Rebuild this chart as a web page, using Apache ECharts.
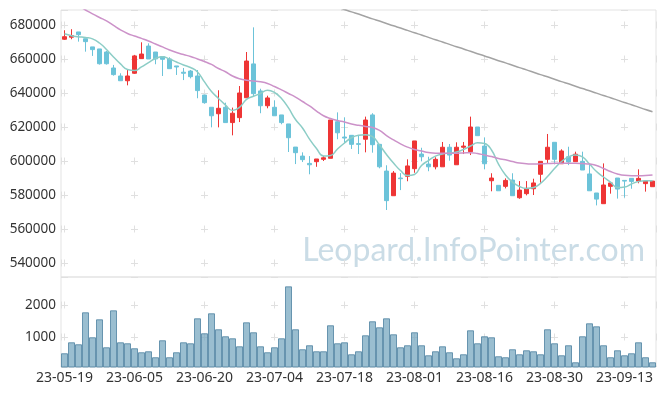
<!DOCTYPE html>
<html><head><meta charset="utf-8">
<script src="https://cdn.jsdelivr.net/npm/echarts@6/dist/echarts.min.js"></script>
<style>html,body{margin:0;padding:0;background:#fff}#c{width:665px;height:396px}</style>
</head><body><div id="c"></div>
<script>
const dates = ['23-05-19','23-05-22','23-05-23','23-05-24','23-05-25','23-05-26','23-05-30','23-05-31','23-06-01','23-06-02',
'23-06-05','23-06-07','23-06-08','23-06-09','23-06-12','23-06-13','23-06-14','23-06-15','23-06-16','23-06-19',
'23-06-20','23-06-21','23-06-22','23-06-23','23-06-26','23-06-27','23-06-28','23-06-29','23-06-30','23-07-03',
'23-07-04','23-07-05','23-07-06','23-07-07','23-07-10','23-07-11','23-07-12','23-07-13','23-07-14','23-07-17',
'23-07-18','23-07-19','23-07-20','23-07-21','23-07-24','23-07-25','23-07-26','23-07-27','23-07-28','23-07-31',
'23-08-01','23-08-02','23-08-03','23-08-04','23-08-07','23-08-08','23-08-09','23-08-10','23-08-11','23-08-14',
'23-08-16','23-08-17','23-08-18','23-08-21','23-08-22','23-08-23','23-08-24','23-08-25','23-08-28','23-08-29',
'23-08-30','23-08-31','23-09-01','23-09-04','23-09-05','23-09-06','23-09-07','23-09-08','23-09-11','23-09-12',
'23-09-13','23-09-14','23-09-15','23-09-18','23-09-19'];
// [open, close, low, high]
const ohlc = [
[671600,673100,671200,676900],[672800,673700,671600,677500],[675900,674300,670200,675900],[671900,670200,664300,671900],[667100,665500,661800,667100],
[665900,657200,656700,665900],[664100,657200,656700,664700],[654700,650800,650200,656500],[650000,647200,647200,651600],[647200,650000,644500,653900],
[651600,661800,651200,662400],[660200,662900,660200,669800],[667600,660000,660000,669200],[664100,660000,656900,664100],[661400,659800,650000,661400],
[660000,654300,654300,661000],[655900,655300,650600,655900],[652200,651600,647600,654700],[652900,649600,648600,653500],[650000,641400,636900,653500],
[638800,634300,633700,638800],[631600,626600,619800,631600],[627800,631000,619800,641600],[631600,622600,622600,634300],[622600,628100,615100,631400],
[625500,640000,622900,644100],[637200,658800,637200,664100],[657100,639600,638200,678600],[641200,632500,628100,642500],[632500,637100,631000,638400],
[631600,626600,626600,635700],[627100,622600,621600,627100],[621800,613700,605300,621800],[608200,604900,598200,608200],[602900,600800,599400,605100],
[598600,597800,592200,602900],[599600,601200,596600,601200],[601000,601900,600000,602900],[601600,624100,601600,624100],[623100,616600,612800,628600],
[614100,613500,610400,625700],[615100,609800,607100,615100],[610200,609800,604100,615100],[612800,624100,605100,626100],[627100,609600,604900,628100],
[609800,596600,595700,609800],[594100,576700,571200,597500],[579600,592900,579600,594100],[590000,589600,582900,592900],[591000,597100,588100,601000],
[595500,611800,593100,611800],[604100,602500,599800,607800],[598200,596600,594000,602500],[596600,601000,595100,602200],[596600,608100,596600,611200],
[608100,603500,600200,610000],[597800,608100,597800,611000],[608100,608800,604100,611200],[605500,620000,603500,626100],[620000,614900,614900,620000],
[608800,598400,595100,613900],[588400,590000,582200,592800],[585700,582500,582500,585700],[585100,588600,583900,589800],[588800,579600,579600,592800],
[578400,582900,577800,588200],[580800,583900,579800,588200],[583700,587100,580000,589600],[592200,599800,587200,599800],[601000,608100,598400,615900],
[611000,601000,598100,611000],[598400,605900,598400,606900],[602500,599400,597600,608400],[599600,604000,599600,605500],[599800,594700,594700,605500],
[592400,582500,582500,598100],[581200,577600,573900,581200],[574900,585900,574900,598600],[585100,587100,580800,587100],[590000,583500,577900,590000],
[588600,588200,578500,588600],[589800,588000,583700,589800],[588200,589800,586900,595100],[586700,588200,582000,588200],[584900,588200,584900,588200]];
const ma5 = [674800,673700,673100,672600,671800,669400,665600,661200,657100,653800,
653200,655300,657900,660300,661300,660000,658200,656500,655000,652400,
646500,640900,636800,632900,629700,631500,636200,638100,639700,641600,
640300,636800,631200,624400,619400,612900,607400,602900,603200,607100,
610600,613700,615100,615400,614400,609400,603800,598800,594400,591500,
592100,597400,600300,602900,604100,604700,605300,606800,608800,610700,
610300,606500,598200,591800,587600,585000,583900,584400,586900,590900,
595600,599700,602400,603500,602400,598200,593800,590600,587600,584400,
584700,586500,588000,588400,588400];
const ma20 = [695300,693200,691200,688800,686500,684400,682400,679700,677100,675000,
673500,672100,670600,668800,667100,665300,663800,662600,661500,660000,
658500,656800,654400,652500,650000,648400,647500,647100,646600,645600,
643800,641800,639700,637600,635000,632400,629400,626600,625000,623800,
622900,621800,621000,620300,619700,618000,615000,612400,610100,608200,
606800,605900,605000,604600,604600,604600,604600,604700,604900,604400,
603500,602600,601500,600700,599700,598800,598400,598200,598400,598500,
598700,598700,598700,598700,598500,598200,597400,595600,593800,592400,
591600,591400,591400,591500,591800];
const ma60 = [745100,743700,742300,740900,739500,738100,736700,735300,733900,732500,
731100,729700,728300,726900,725500,724100,722700,721300,719900,718500,
717100,715700,714300,712900,711500,710100,708700,707300,705900,704500,
703100,701700,700300,698900,697500,696100,694700,693300,691900,690500,
689100,687700,686400,685000,683600,682300,680900,679500,678200,676800,
675400,674100,672700,671300,670000,668600,667200,665900,664500,663100,
661800,660400,659000,657700,656300,654900,653600,652200,650800,649500,
648100,646700,645400,644000,642600,641300,639900,638500,637200,635800,
634400,633100,631700,630300,629000];
const volume = [490,833,771,1771,990,1552,677,1833,833,802,
646,521,552,365,896,365,521,833,802,1583,
1115,1740,1240,1021,958,708,1458,1146,708,521,
677,958,2583,1240,615,740,552,552,1365,802,
833,458,552,1052,1490,1302,1583,1083,677,740,
1146,740,427,552,708,521,333,458,1208,802,
1021,990,396,365,615,458,583,552,458,1240,
802,427,740,208,1021,1427,1333,740,365,583,
427,490,833,365,208];
const priceRange = [531800, 688800];
const volRange = [60, 2875];

const chart = echarts.init(document.getElementById('c'), null, {renderer: 'canvas'});
const FONT = 'Noto Sans';
const crossColor = '#e0e0e0';
const hiddenX = (gi, dashOffset, period) => ({
  type: 'value', gridIndex: gi, min: -0.5, max: ohlc.length - 0.5, splitNumber: 8,
  axisLine: {show: false}, axisTick: {show: false}, axisLabel: {show: false},
  splitLine: {show: true, lineStyle: {color: crossColor, width: 1, type: [7, period - 7], dashOffset: dashOffset}}
});
chart.setOption({
  animation: false,
  backgroundColor: '#fff',
  grid: [
    {left: 61, top: 10, width: 595, height: 267, show: true, borderColor: '#e3e3e3', borderWidth: 1},
    {left: 61, top: 277, width: 595, height: 90, show: true, borderColor: '#e3e3e3', borderWidth: 1}
  ],
  xAxis: [
    {type: 'category', gridIndex: 0, data: dates, boundaryGap: true,
     axisLine: {show: false}, axisTick: {show: false}, axisLabel: {show: false}, splitLine: {show: false}},
    {type: 'category', gridIndex: 1, data: dates, boundaryGap: true,
     axisLine: {show: false}, axisTick: {show: false},
     axisLabel: {show: true, interval: 9, color: '#333', fontSize: 14, fontFamily: FONT, margin: 4},
     splitLine: {show: false}},
    hiddenX(0, 22.5, 34),
    hiddenX(1, 7.5, 32)
  ],
  yAxis: [
    {type: 'value', gridIndex: 0, min: priceRange[0], max: priceRange[1], splitNumber: 8, scale: true,
     axisLine: {show: false}, axisTick: {show: false},
     axisLabel: {color: '#333', fontSize: 13.5, fontFamily: FONT, margin: 5,
       formatter: v => (v % 20000 === 0 ? String(v) : '')},
     splitLine: {show: true, lineStyle: {color: crossColor, width: 1, type: [7, 63], dashOffset: 0}}},
    {type: 'value', gridIndex: 1, min: volRange[0], max: volRange[1], splitNumber: 3,
     axisLine: {show: false}, axisTick: {show: false},
     axisLabel: {color: '#333', fontSize: 13.5, fontFamily: FONT, margin: 5,
       formatter: v => (v % 1000 === 0 ? String(v) : '')},
     splitLine: {show: true, lineStyle: {color: crossColor, width: 1, type: [7, 63], dashOffset: 0}}}
  ],
  graphic: [{
    type: 'text', right: 20, top: 235, z: 0, silent: true,
    style: {text: 'Leopard.InfoPointer.com', fontFamily: 'Lato', fontSize: 32, fill: 'rgba(150,185,205,0.5)'}
  }],
  series: [
    {type: 'candlestick', xAxisIndex: 0, yAxisIndex: 0, data: ohlc, barWidth: 5,
     itemStyle: {color: '#ee3535', color0: '#6cc3d9', borderColor: '#ee3535', borderColor0: '#6cc3d9', borderWidth: 1}},
    {type: 'line', name: 'MA5', xAxisIndex: 0, yAxisIndex: 0, data: ma5, smooth: true, showSymbol: false,
     lineStyle: {color: '#8ccdc6', width: 1.5}, z: 3},
    {type: 'line', name: 'MA20', xAxisIndex: 0, yAxisIndex: 0, data: ma20, smooth: true, showSymbol: false,
     lineStyle: {color: '#cc92c9', width: 1.5}, z: 3},
    {type: 'line', name: 'MA60', xAxisIndex: 0, yAxisIndex: 0, data: ma60, smooth: true, showSymbol: false,
     lineStyle: {color: '#a3a3a3', width: 1.5}, z: 3},
    {type: 'bar', xAxisIndex: 1, yAxisIndex: 1, data: volume, barCategoryGap: '0%',
     itemStyle: {color: 'rgba(120,168,192,0.75)', borderColor: 'rgba(85,135,165,0.85)', borderWidth: 1}}
  ]
});
</script></body></html>
